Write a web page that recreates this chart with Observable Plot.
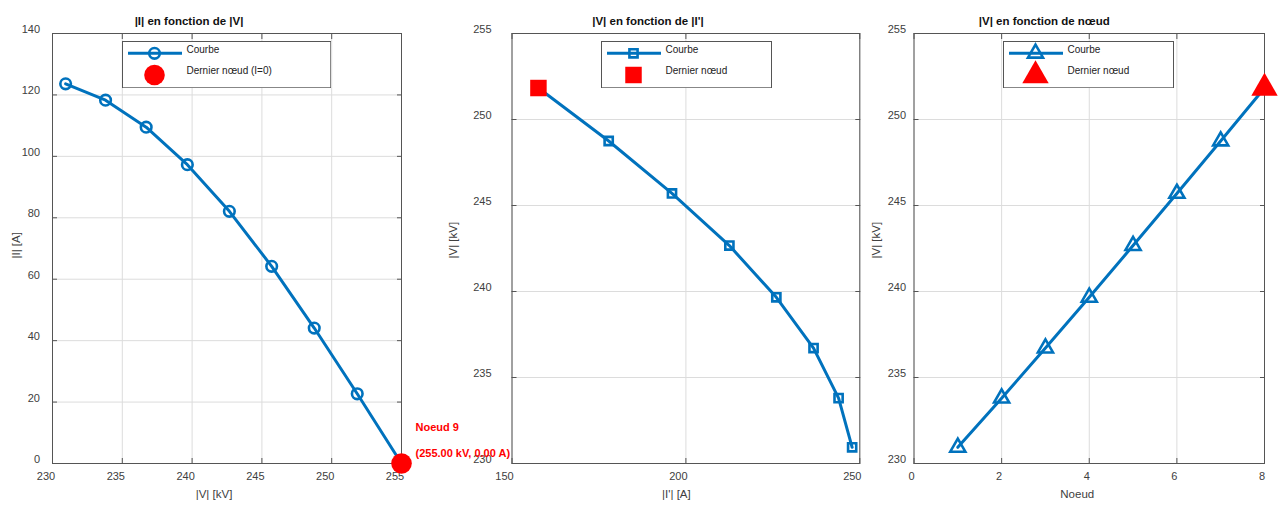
<!DOCTYPE html>
<html><head><meta charset="utf-8">
<script src="https://cdn.jsdelivr.net/npm/d3@7"></script>
<script src="https://cdn.jsdelivr.net/npm/@observablehq/plot@0.6"></script>
<style>
body{margin:0;background:#fff;font-family:"Liberation Sans",Arial,sans-serif;}
#wrap{position:relative;width:1281px;height:507px;overflow:hidden;background:#fff}
.panel{position:absolute;top:0}
.legend{position:absolute}
</style></head><body><div id="wrap"></div>
<script>
// ---- data ----
const nodes = [1, 2, 3, 4, 5, 6, 7, 8, 9];
const voltageKV = [230.94, 233.80, 236.71, 239.66, 242.67, 245.70, 248.75, 251.83, 255.00];
const currentA = [123.6, 118.3, 109.5, 97.3, 82.1, 64.2, 44.1, 22.7, 0.0];
const currentPrimeA = [247.8, 243.9, 236.7, 226.0, 212.5, 196.0, 177.8, 157.6];
const ticksV1 = [230, 235, 240, 245, 250, 255];
const ticksI1 = [0, 20, 40, 60, 80, 100, 120, 140];
const ticksIp = [150, 200, 250];
const ticksV = [230, 235, 240, 245, 250, 255];
const ticksNode = [0, 2, 4, 6, 8];
const titles = ["|I| en fonction de |V|", "|V| en fonction de |I'|", "|V| en fonction de nœud"];
const xLabels = ["|V| [kV]", "|I'| [A]", "Noeud"];
const yLabels = ["|I| [A]", "|V| [kV]", "|V| [kV]"];
const legendLabels = [["Courbe", "Dernier nœud (I=0)"], ["Courbe", "Dernier nœud"], ["Courbe", "Dernier nœud"]];

const BLUE = "#0072BD", RED = "#FF0000";
const FONT = "'Liberation Sans', Arial, sans-serif";
const wrap = document.getElementById("wrap");

function deco(xt, yt, c) {
  const tk = {stroke: "#555", strokeWidth: 1, tickFormat: () => "", label: null};
  return [
    Plot.gridX(xt, {stroke: "#dcdcdc", strokeOpacity: 1}),
    Plot.gridY(yt, {stroke: "#dcdcdc", strokeOpacity: 1}),
    Plot.frame({stroke: "#555", strokeWidth: 1}),
    Plot.axisX(xt, {anchor: "bottom", tickSize: 0, tickPadding: c.xPad, dx: c.xdx, label: null, fill: "#404040", fontSize: 11}),
    Plot.axisY(yt, {anchor: "left", tickSize: 0, tickPadding: c.yPad, dy: c.ydy, label: null, fill: "#404040", fontSize: 11}),
    Plot.axisX(xt, {...tk, anchor: "bottom", tickSize: -5}),
    Plot.axisX(xt, {...tk, anchor: "top", tickSize: -5}),
    Plot.axisY(yt, {...tk, anchor: "left", tickSize: -5}),
    Plot.axisY(yt, {...tk, anchor: "right", tickSize: -5}),
    Plot.text([titles[c.k]], {text: d => d, frameAnchor: "top", dy: -16.6, dx: c.tdx, fontWeight: "bold", fontSize: 11.5, fill: "#111"}),
    Plot.text([xLabels[c.k]], {text: d => d, frameAnchor: "bottom", dy: 34, dx: c.xldx, fontSize: 11.5, fill: "#404040"}),
    Plot.text([yLabels[c.k]], {text: d => d, frameAnchor: "left", dx: c.yldx, dy: 10, rotate: -90, fontSize: 11.5, fill: "#404040"})
  ];
}

function place(svg, left, z) {
  const d = document.createElement("div");
  d.className = "panel";
  d.style.left = left + "px";
  d.style.zIndex = z;
  d.appendChild(svg);
  wrap.appendChild(d);
}

const svgStyle = {overflow: "visible", background: "transparent", fontFamily: FONT, fontSize: "11px"};
const idx9 = d3.range(9), idx8 = d3.range(8);

// ---- panel 1 ----
const p1 = Plot.plot({
  width: 430, height: 507,
  marginLeft: 52, marginRight: 29, marginTop: 33, marginBottom: 44,
  style: svgStyle,
  x: {domain: [230, 255]},
  y: {domain: [0, 140]},
  marks: [
    ...deco(ticksV1, ticksI1, {k: 0, xPad: 9, xdx: -6.5, yPad: 12.5, ydy: -4, tdx: -38, xldx: -13, yldx: -36}),
    Plot.line(idx9, {x: i => voltageKV[i], y: i => currentA[i], stroke: BLUE, strokeWidth: 3}),
    Plot.dot(idx8, {x: i => voltageKV[i], y: i => currentA[i], r: 5.3, stroke: BLUE, strokeWidth: 2.6, fill: "none"}),
    Plot.dot([8], {x: i => voltageKV[i], y: i => currentA[i], r: 10.3, fill: RED, stroke: "none"}),
    Plot.text([8], {x: i => voltageKV[i], y: i => currentA[i], text: i => `Noeud ${nodes[i]}`, dx: 14, dy: -36, textAnchor: "start", fill: RED, fontWeight: "bold", fontSize: 11}),
    Plot.text([8], {x: i => voltageKV[i], y: i => currentA[i], text: i => `(${voltageKV[i].toFixed(2)} kV, ${currentA[i].toFixed(2)} A)`, dx: 14, dy: -10, textAnchor: "start", fill: RED, fontWeight: "bold", fontSize: 11})
  ]
});

// ---- panel 2 ----
const p2 = Plot.plot({
  width: 430, height: 507,
  marginLeft: 81.5, marginRight: 0.7, marginTop: 33, marginBottom: 44,
  style: svgStyle,
  x: {domain: [150, 250]},
  y: {domain: [230, 255]},
  marks: [
    ...deco(ticksIp, ticksV, {k: 1, xPad: 9, xdx: -7.5, yPad: 20.5, ydy: -4.5, tdx: -38, xldx: -9.5, yldx: -58.5}),
    Plot.line(idx8, {x: i => currentPrimeA[i], y: i => voltageKV[i], stroke: BLUE, strokeWidth: 3}),
    Plot.dot(d3.range(7), {x: i => currentPrimeA[i], y: i => voltageKV[i], symbol: "square", r: 4.6, stroke: BLUE, strokeWidth: 2.6, fill: "none"}),
    Plot.dot([7], {x: i => currentPrimeA[i], y: i => voltageKV[i], symbol: "square", r: 9.3, fill: RED, stroke: "none"})
  ]
});

// ---- panel 3 ----
const p3 = Plot.plot({
  width: 421, height: 507,
  marginLeft: 53.5, marginRight: 17, marginTop: 33, marginBottom: 44,
  style: svgStyle,
  x: {domain: [0, 8]},
  y: {domain: [230, 255]},
  marks: [
    ...deco(ticksNode, ticksV, {k: 2, xPad: 9, xdx: -2.5, yPad: 8, ydy: -4.5, tdx: -45, xldx: -12, yldx: -37.5}),
    Plot.line(idx8, {x: i => nodes[i], y: i => voltageKV[i], stroke: BLUE, strokeWidth: 3}),
    Plot.dot(d3.range(7), {x: i => nodes[i], y: i => voltageKV[i], symbol: "triangle", r: 5.6, stroke: BLUE, strokeWidth: 2.6, fill: "none"}),
    Plot.dot([7], {x: i => nodes[i], y: i => voltageKV[i], symbol: "triangle", r: 9.8, fill: RED, stroke: "none"})
  ]
});

place(p3, 860, 1);
place(p2, 430, 2);
place(p1, 0, 3);

// ---- legends (inside plot areas) ----
function legend(k, left, width, symbol, rBlue, rRed, redDy) {
  const H = 47.3;
  const div = document.createElement("div");
  div.className = "legend";
  div.style.left = left + "px";
  div.style.top = "41px";
  div.style.zIndex = 10;
  const svg = d3.create("svg").attr("width", width).attr("height", H).style("display", "block").style("font-family", FONT);
  svg.append("rect").attr("x", 0.5).attr("y", 0.5).attr("width", width - 1).attr("height", H - 1)
    .attr("fill", "#fff").attr("stroke", "#555");
  const mx = 32.5;
  svg.append("line").attr("x1", 6).attr("x2", 60).attr("y1", 12.3).attr("y2", 12.3).attr("stroke", BLUE).attr("stroke-width", 3);
  const sym = d3.symbol().type(symbol);
  svg.append("path").attr("transform", `translate(${mx},12.3)`).attr("d", sym.size(Math.PI * rBlue * rBlue)())
    .attr("fill", "none").attr("stroke", BLUE).attr("stroke-width", 2.6);
  svg.append("path").attr("transform", `translate(${mx},${34 + redDy})`).attr("d", sym.size(Math.PI * rRed * rRed)())
    .attr("fill", RED);
  svg.append("text").attr("x", 64.5).attr("y", 9.5).attr("dominant-baseline", "middle").attr("font-size", 10).attr("fill", "#222").text(legendLabels[k][0]);
  svg.append("text").attr("x", 64.5).attr("y", 30.5).attr("dominant-baseline", "middle").attr("font-size", 10).attr("fill", "#222").text(legendLabels[k][1]);
  div.appendChild(svg.node());
  wrap.appendChild(div);
}
legend(0, 121.7, 209.3, d3.symbolCircle, 5.3, 10.3, 0);
legend(1, 600.7, 171, d3.symbolSquare, 4.6, 9.3, 0);
legend(2, 1003.3, 171, d3.symbolTriangle, 5.6, 9.8, 0.6);
</script></body></html>
